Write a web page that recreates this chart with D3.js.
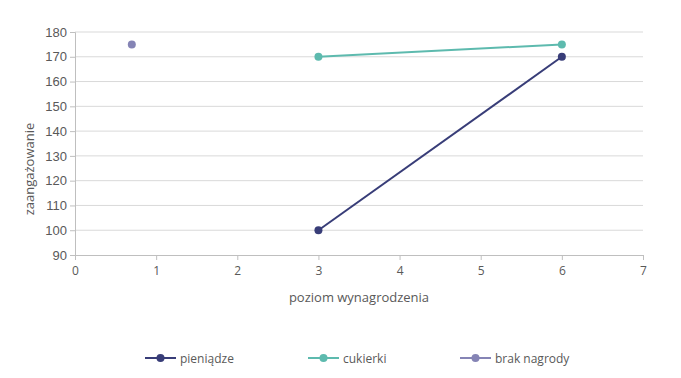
<!DOCTYPE html>
<html>
<head>
<meta charset="utf-8">
<script src="https://cdn.jsdelivr.net/npm/d3@7"></script>
<style>
  body { margin: 0; background: #fff; }
  text { font-family: "Open Sans", "Liberation Sans", sans-serif; fill: #595959; }
</style>
</head>
<body>
<div id="chart"></div>
<script>
// data
var seriesNames = ['pieniądze', 'cukierki', 'brak nagrody'];
var seriesColors = ['#383d78', '#5dbaae', '#8584b5'];
var pieniadze = [[3, 100], [6, 170]];
var cukierki = [[3, 170], [6, 175]];
var brakNagrody = [[0.7, 175]];
var xTicks = [0, 1, 2, 3, 4, 5, 6, 7];
var yTicks = [90, 100, 110, 120, 130, 140, 150, 160, 170, 180];

var series = [pieniadze, cukierki, brakNagrody];

var width = 681, height = 378;

var svg = d3.select('#chart')
  .append('svg')
  .attr('width', width)
  .attr('height', height);

var x = d3.scaleLinear().domain([0, 7]).range([75, 643]);
var y = d3.scaleLinear().domain([90, 180]).range([255, 32]);

// gridlines
svg.append('g')
  .selectAll('line')
  .data(yTicks.slice(1))
  .enter().append('line')
  .attr('x1', x(0)).attr('x2', x(7))
  .attr('y1', function(d) { return y(d); })
  .attr('y2', function(d) { return y(d); })
  .attr('stroke', '#d9d9d9')
  .attr('stroke-width', 1);

// y axis
var yAxis = svg.append('g')
  .attr('transform', 'translate(' + x(0) + ',0)')
  .call(d3.axisLeft(y).tickValues(yTicks).tickFormat(d3.format('d')).tickSize(5).tickPadding(3));
yAxis.select('.domain').attr('stroke', '#bfbfbf');
yAxis.selectAll('.tick line').attr('stroke', '#bfbfbf');
yAxis.selectAll('.tick text')
  .style('font-size', '13px')
  .style('font-family', '"Liberation Sans", Arial, sans-serif')
  .attr('fill', '#595959');

// x axis
var xAxis = svg.append('g')
  .attr('transform', 'translate(0,' + y(90) + ')')
  .call(d3.axisBottom(x).tickValues(xTicks).tickFormat(d3.format('d')).tickSize(5).tickPadding(6).tickSizeOuter(0));
xAxis.select('.domain').attr('stroke', '#bfbfbf');
xAxis.selectAll('.tick line').attr('stroke', '#bfbfbf');
xAxis.selectAll('.tick text').style('font-size', '12px').attr('fill', '#595959');

// axis titles
svg.append('text')
  .attr('x', 359).attr('y', 302)
  .attr('text-anchor', 'middle')
  .style('font-size', '13px')
  .text('poziom wynagrodzenia');

svg.append('text')
  .attr('transform', 'translate(34,169) rotate(-90)')
  .attr('text-anchor', 'middle')
  .style('font-size', '13px')
  .text('zaangażowanie');

// lines and markers
var line = d3.line()
  .x(function(d) { return x(d[0]); })
  .y(function(d) { return y(d[1]); });

series.forEach(function(s, i) {
  svg.append('path')
    .datum(s)
    .attr('d', line)
    .attr('fill', 'none')
    .attr('stroke', seriesColors[i])
    .attr('stroke-width', 2);
  svg.append('g')
    .selectAll('circle')
    .data(s)
    .enter().append('circle')
    .attr('cx', function(d) { return x(d[0]); })
    .attr('cy', function(d) { return y(d[1]); })
    .attr('r', 4)
    .attr('fill', seriesColors[i]);
});

// legend
var legendX = [145, 308, 460];
var legend = svg.append('g');
seriesNames.forEach(function(name, i) {
  var lx = legendX[i], ly = 358;
  legend.append('line')
    .attr('x1', lx).attr('x2', lx + 31)
    .attr('y1', ly).attr('y2', ly)
    .attr('stroke', seriesColors[i]).attr('stroke-width', 2);
  legend.append('circle')
    .attr('cx', lx + 15.5).attr('cy', ly).attr('r', 4)
    .attr('fill', seriesColors[i]);
  legend.append('text')
    .attr('x', lx + 35).attr('y', ly + 4.5)
    .style('font-size', '12px')
    .text(name);
});
</script>
</body>
</html>
